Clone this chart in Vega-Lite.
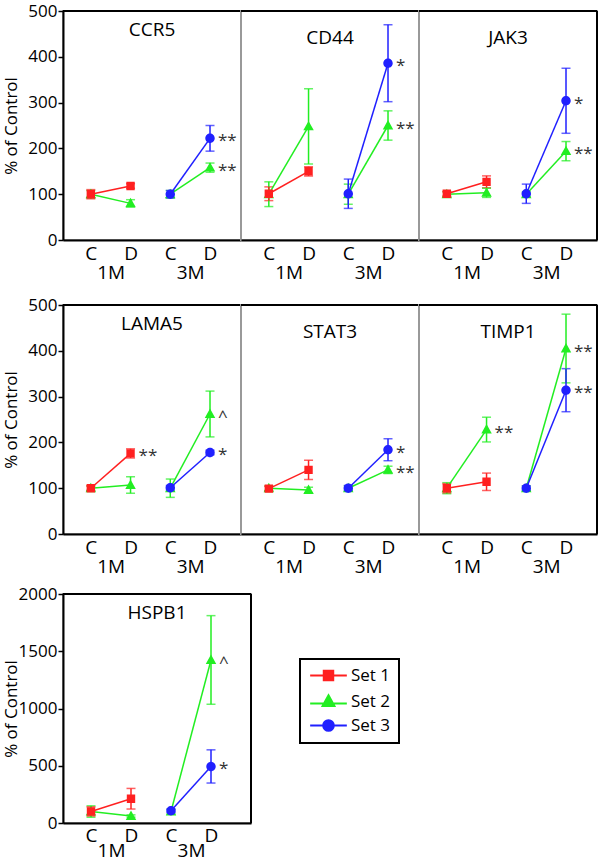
{
  "$schema": "https://vega.github.io/schema/vega-lite/v6.json",
  "padding": {"left": 1, "top": 1, "right": 2, "bottom": 0},
  "data": {"values": [
    {"gene":"CCR5","set":"Set 2","month":"1M","pos":1,"v":100,"err":8,"sig":""},
    {"gene":"CCR5","set":"Set 2","month":"1M","pos":2,"v":80,"err":8,"sig":""},
    {"gene":"CCR5","set":"Set 2","month":"3M","pos":3,"v":100,"err":8,"sig":""},
    {"gene":"CCR5","set":"Set 2","month":"3M","pos":4,"v":158,"err":10,"sig":"**"},
    {"gene":"CCR5","set":"Set 1","month":"1M","pos":1,"v":100,"err":10,"sig":""},
    {"gene":"CCR5","set":"Set 1","month":"1M","pos":2,"v":118,"err":5,"sig":""},
    {"gene":"CCR5","set":"Set 3","month":"3M","pos":3,"v":100,"err":8,"sig":""},
    {"gene":"CCR5","set":"Set 3","month":"3M","pos":4,"v":222,"err":28,"sig":"**"},
    {"gene":"CD44","set":"Set 2","month":"1M","pos":1,"v":100,"err":27,"sig":""},
    {"gene":"CD44","set":"Set 2","month":"1M","pos":2,"v":248,"err":82,"sig":""},
    {"gene":"CD44","set":"Set 2","month":"3M","pos":3,"v":100,"err":22,"sig":""},
    {"gene":"CD44","set":"Set 2","month":"3M","pos":4,"v":250,"err":32,"sig":"**"},
    {"gene":"CD44","set":"Set 1","month":"1M","pos":1,"v":101,"err":15,"sig":""},
    {"gene":"CD44","set":"Set 1","month":"1M","pos":2,"v":150,"err":10,"sig":""},
    {"gene":"CD44","set":"Set 3","month":"3M","pos":3,"v":101,"err":32,"sig":""},
    {"gene":"CD44","set":"Set 3","month":"3M","pos":4,"v":386,"err":84,"sig":"*"},
    {"gene":"JAK3","set":"Set 2","month":"1M","pos":1,"v":100,"err":5,"sig":""},
    {"gene":"JAK3","set":"Set 2","month":"1M","pos":2,"v":103,"err":10,"sig":""},
    {"gene":"JAK3","set":"Set 2","month":"3M","pos":3,"v":100,"err":5,"sig":""},
    {"gene":"JAK3","set":"Set 2","month":"3M","pos":4,"v":194,"err":21,"sig":"**"},
    {"gene":"JAK3","set":"Set 1","month":"1M","pos":1,"v":101,"err":5,"sig":""},
    {"gene":"JAK3","set":"Set 1","month":"1M","pos":2,"v":127,"err":13,"sig":""},
    {"gene":"JAK3","set":"Set 3","month":"3M","pos":3,"v":101,"err":21,"sig":""},
    {"gene":"JAK3","set":"Set 3","month":"3M","pos":4,"v":304,"err":71,"sig":"*"},
    {"gene":"LAMA5","set":"Set 2","month":"1M","pos":1,"v":100,"err":5,"sig":""},
    {"gene":"LAMA5","set":"Set 2","month":"1M","pos":2,"v":107,"err":18,"sig":""},
    {"gene":"LAMA5","set":"Set 2","month":"3M","pos":3,"v":100,"err":20,"sig":""},
    {"gene":"LAMA5","set":"Set 2","month":"3M","pos":4,"v":262,"err":50,"sig":"^"},
    {"gene":"LAMA5","set":"Set 1","month":"1M","pos":1,"v":100,"err":5,"sig":""},
    {"gene":"LAMA5","set":"Set 1","month":"1M","pos":2,"v":176,"err":10,"sig":"**"},
    {"gene":"LAMA5","set":"Set 3","month":"3M","pos":3,"v":101,"err":5,"sig":""},
    {"gene":"LAMA5","set":"Set 3","month":"3M","pos":4,"v":178,"err":5,"sig":"*"},
    {"gene":"STAT3","set":"Set 2","month":"1M","pos":1,"v":100,"err":5,"sig":""},
    {"gene":"STAT3","set":"Set 2","month":"1M","pos":2,"v":96,"err":6,"sig":""},
    {"gene":"STAT3","set":"Set 2","month":"3M","pos":3,"v":100,"err":5,"sig":""},
    {"gene":"STAT3","set":"Set 2","month":"3M","pos":4,"v":140,"err":8,"sig":"**"},
    {"gene":"STAT3","set":"Set 1","month":"1M","pos":1,"v":99,"err":5,"sig":""},
    {"gene":"STAT3","set":"Set 1","month":"1M","pos":2,"v":140,"err":21,"sig":""},
    {"gene":"STAT3","set":"Set 3","month":"3M","pos":3,"v":100,"err":6,"sig":""},
    {"gene":"STAT3","set":"Set 3","month":"3M","pos":4,"v":184,"err":24,"sig":"*"},
    {"gene":"TIMP1","set":"Set 2","month":"1M","pos":1,"v":100,"err":12,"sig":""},
    {"gene":"TIMP1","set":"Set 2","month":"1M","pos":2,"v":228,"err":27,"sig":"**"},
    {"gene":"TIMP1","set":"Set 2","month":"3M","pos":3,"v":100,"err":5,"sig":""},
    {"gene":"TIMP1","set":"Set 2","month":"3M","pos":4,"v":405,"err":75,"sig":"**"},
    {"gene":"TIMP1","set":"Set 1","month":"1M","pos":1,"v":100,"err":10,"sig":""},
    {"gene":"TIMP1","set":"Set 1","month":"1M","pos":2,"v":114,"err":19,"sig":""},
    {"gene":"TIMP1","set":"Set 3","month":"3M","pos":3,"v":100,"err":5,"sig":""},
    {"gene":"TIMP1","set":"Set 3","month":"3M","pos":4,"v":314,"err":47,"sig":"**"},
    {"gene":"HSPB1","set":"Set 2","month":"1M","pos":1,"v":100,"err":50,"sig":""},
    {"gene":"HSPB1","set":"Set 2","month":"1M","pos":2,"v":61,"err":10,"sig":""},
    {"gene":"HSPB1","set":"Set 2","month":"3M","pos":3,"v":100,"err":20,"sig":""},
    {"gene":"HSPB1","set":"Set 2","month":"3M","pos":4,"v":1424,"err":387,"sig":"^"},
    {"gene":"HSPB1","set":"Set 1","month":"1M","pos":1,"v":101,"err":40,"sig":""},
    {"gene":"HSPB1","set":"Set 1","month":"1M","pos":2,"v":212,"err":90,"sig":""},
    {"gene":"HSPB1","set":"Set 3","month":"3M","pos":3,"v":107,"err":15,"sig":""},
    {"gene":"HSPB1","set":"Set 3","month":"3M","pos":4,"v":494,"err":145,"sig":"*"}
  ]},
  "vconcat": [
    {"vconcat": [
    {"hconcat": [
      {"width": 178, "height": 229, "title": {"text": "CCR5"},
       "transform": [{"filter": {"field": "gene", "equal": "CCR5"}}],
       "resolve": {"axis": {"x": "independent"}},
       "layer": [
        {"mark": {"type": "errorbar", "ticks": {"size": 9}, "thickness": 1.5},
         "encoding": {
          "x": {"field": "pos", "type": "quantitative", "scale": {"domain": [0.3, 4.78], "nice": false, "zero": false}, "axis": null},
          "y": {"field": "v", "type": "quantitative", "scale": {"domain": [0, 500], "nice": false}, "axis": {"title": "% of Control", "values": [0, 100, 200, 300, 400, 500]}},
          "yError": {"field": "err"},
          "color": {"field": "set", "type": "nominal", "scale": {"domain": ["Set 1", "Set 2", "Set 3"], "range": ["#ff2020", "#22ee22", "#2020ff"]}}}},
        {"mark": {"type": "line", "strokeWidth": 1.5},
         "encoding": {
          "x": {"field": "pos", "type": "quantitative", "axis": {"title": null, "orient": "bottom", "values": [1, 2, 3, 4], "labelExpr": "datum.value == 1 || datum.value == 3 ? 'C' : 'D'"}},
          "y": {"field": "v", "type": "quantitative"},
          "color": {"field": "set", "type": "nominal"},
          "detail": {"field": "month"}}},
        {"mark": {"type": "point", "filled": true, "opacity": 1, "size": 110, "strokeWidth": 0},
         "encoding": {
          "x": {"field": "pos", "type": "quantitative", "axis": {"title": null, "orient": "bottom", "values": [1.5, 3.5], "labelExpr": "datum.value < 2 ? '1M' : '3M'", "offset": 19, "domain": false}},
          "y": {"field": "v", "type": "quantitative"},
          "color": {"field": "set", "type": "nominal"},
          "shape": {"field": "set", "type": "nominal", "scale": {"domain": ["Set 1", "Set 2", "Set 3"], "range": ["M-3.1,0H3.1M-0.8,-0.8H0.8V0.8H-0.8Z", "M-3.1,0.35H3.1M0,-1.05L1,0.75H-1Z", "M-3.1,0H3.1M-0.9,0A0.9,0.9,0,1,1,0.9,0A0.9,0.9,0,1,1,-0.9,0Z"]}}}},
        {"mark": {"type": "text", "align": "left", "baseline": "middle", "dx": 8, "dy": 3, "fontSize": 17, "color": "#333333"},
         "encoding": {
          "x": {"field": "pos", "type": "quantitative", "axis": null},
          "y": {"field": "v", "type": "quantitative"},
          "text": {"field": "sig"}}},
        {"mark": {"type": "rule", "color": "black", "strokeWidth": 2},
         "encoding": {"y": {"datum": 500, "type": "quantitative"}}}
       ]},
      {"width": 178, "height": 229, "title": {"text": "CD44"},
       "transform": [{"filter": {"field": "gene", "equal": "CD44"}}],
       "resolve": {"axis": {"x": "independent"}},
       "layer": [
        {"mark": {"type": "errorbar", "ticks": {"size": 9}, "thickness": 1.5},
         "encoding": {
          "x": {"field": "pos", "type": "quantitative", "scale": {"domain": [0.3, 4.78], "nice": false, "zero": false}, "axis": null},
          "y": {"field": "v", "type": "quantitative", "scale": {"domain": [0, 500], "nice": false}, "axis": null},
          "yError": {"field": "err"},
          "color": {"field": "set", "type": "nominal"}}},
        {"mark": {"type": "line", "strokeWidth": 1.5},
         "encoding": {
          "x": {"field": "pos", "type": "quantitative", "axis": {"title": null, "orient": "bottom", "values": [1, 2, 3, 4], "labelExpr": "datum.value == 1 || datum.value == 3 ? 'C' : 'D'"}},
          "y": {"field": "v", "type": "quantitative", "axis": null},
          "color": {"field": "set", "type": "nominal"},
          "detail": {"field": "month"}}},
        {"mark": {"type": "point", "filled": true, "opacity": 1, "size": 110, "strokeWidth": 0},
         "encoding": {
          "x": {"field": "pos", "type": "quantitative", "axis": {"title": null, "orient": "bottom", "values": [1.5, 3.5], "labelExpr": "datum.value < 2 ? '1M' : '3M'", "offset": 19, "domain": false}},
          "y": {"field": "v", "type": "quantitative", "axis": null},
          "color": {"field": "set", "type": "nominal"},
          "shape": {"field": "set", "type": "nominal"}}},
        {"mark": {"type": "text", "align": "left", "baseline": "middle", "dx": 8, "dy": 3, "fontSize": 17, "color": "#333333"},
         "encoding": {
          "x": {"field": "pos", "type": "quantitative", "axis": null},
          "y": {"field": "v", "type": "quantitative", "axis": null},
          "text": {"field": "sig"}}},
        {"mark": {"type": "rule", "color": "black", "strokeWidth": 2},
         "encoding": {"y": {"datum": 500, "type": "quantitative", "axis": null}}}
       ]},
      {"width": 178, "height": 229, "title": {"text": "JAK3"},
       "transform": [{"filter": {"field": "gene", "equal": "JAK3"}}],
       "resolve": {"axis": {"x": "independent"}},
       "layer": [
        {"mark": {"type": "errorbar", "ticks": {"size": 9}, "thickness": 1.5},
         "encoding": {
          "x": {"field": "pos", "type": "quantitative", "scale": {"domain": [0.3, 4.78], "nice": false, "zero": false}, "axis": null},
          "y": {"field": "v", "type": "quantitative", "scale": {"domain": [0, 500], "nice": false}, "axis": null},
          "yError": {"field": "err"},
          "color": {"field": "set", "type": "nominal"}}},
        {"mark": {"type": "line", "strokeWidth": 1.5},
         "encoding": {
          "x": {"field": "pos", "type": "quantitative", "axis": {"title": null, "orient": "bottom", "values": [1, 2, 3, 4], "labelExpr": "datum.value == 1 || datum.value == 3 ? 'C' : 'D'"}},
          "y": {"field": "v", "type": "quantitative", "axis": null},
          "color": {"field": "set", "type": "nominal"},
          "detail": {"field": "month"}}},
        {"mark": {"type": "point", "filled": true, "opacity": 1, "size": 110, "strokeWidth": 0},
         "encoding": {
          "x": {"field": "pos", "type": "quantitative", "axis": {"title": null, "orient": "bottom", "values": [1.5, 3.5], "labelExpr": "datum.value < 2 ? '1M' : '3M'", "offset": 19, "domain": false}},
          "y": {"field": "v", "type": "quantitative", "axis": null},
          "color": {"field": "set", "type": "nominal"},
          "shape": {"field": "set", "type": "nominal"}}},
        {"mark": {"type": "text", "align": "left", "baseline": "middle", "dx": 8, "dy": 3, "fontSize": 17, "color": "#333333"},
         "encoding": {
          "x": {"field": "pos", "type": "quantitative", "axis": null},
          "y": {"field": "v", "type": "quantitative", "axis": null},
          "text": {"field": "sig"}}},
        {"mark": {"type": "rule", "color": "black", "strokeWidth": 2},
         "encoding": {"y": {"datum": 500, "type": "quantitative", "axis": null}}},
        {"mark": {"type": "rule", "color": "black", "strokeWidth": 2},
         "encoding": {"x": {"datum": 4.78, "type": "quantitative", "axis": null}}}
       ]}
    ], "spacing": 0, "bounds": "flush"},
    {"hconcat": [
      {"width": 178, "height": 229, "title": {"text": "LAMA5"},
       "transform": [{"filter": {"field": "gene", "equal": "LAMA5"}}],
       "resolve": {"axis": {"x": "independent"}},
       "layer": [
        {"mark": {"type": "errorbar", "ticks": {"size": 9}, "thickness": 1.5},
         "encoding": {
          "x": {"field": "pos", "type": "quantitative", "scale": {"domain": [0.3, 4.78], "nice": false, "zero": false}, "axis": null},
          "y": {"field": "v", "type": "quantitative", "scale": {"domain": [0, 500], "nice": false}, "axis": {"title": "% of Control", "values": [0, 100, 200, 300, 400, 500]}},
          "yError": {"field": "err"},
          "color": {"field": "set", "type": "nominal"}}},
        {"mark": {"type": "line", "strokeWidth": 1.5},
         "encoding": {
          "x": {"field": "pos", "type": "quantitative", "axis": {"title": null, "orient": "bottom", "values": [1, 2, 3, 4], "labelExpr": "datum.value == 1 || datum.value == 3 ? 'C' : 'D'"}},
          "y": {"field": "v", "type": "quantitative"},
          "color": {"field": "set", "type": "nominal"},
          "detail": {"field": "month"}}},
        {"mark": {"type": "point", "filled": true, "opacity": 1, "size": 110, "strokeWidth": 0},
         "encoding": {
          "x": {"field": "pos", "type": "quantitative", "axis": {"title": null, "orient": "bottom", "values": [1.5, 3.5], "labelExpr": "datum.value < 2 ? '1M' : '3M'", "offset": 19, "domain": false}},
          "y": {"field": "v", "type": "quantitative"},
          "color": {"field": "set", "type": "nominal"},
          "shape": {"field": "set", "type": "nominal"}}},
        {"mark": {"type": "text", "align": "left", "baseline": "middle", "dx": 8, "dy": 3, "fontSize": 17, "color": "#333333"},
         "encoding": {
          "x": {"field": "pos", "type": "quantitative", "axis": null},
          "y": {"field": "v", "type": "quantitative"},
          "text": {"field": "sig"}}},
        {"mark": {"type": "rule", "color": "black", "strokeWidth": 2},
         "encoding": {"y": {"datum": 500, "type": "quantitative"}}}
       ]},
      {"width": 178, "height": 229, "title": {"text": "STAT3"},
       "transform": [{"filter": {"field": "gene", "equal": "STAT3"}}],
       "resolve": {"axis": {"x": "independent"}},
       "layer": [
        {"mark": {"type": "errorbar", "ticks": {"size": 9}, "thickness": 1.5},
         "encoding": {
          "x": {"field": "pos", "type": "quantitative", "scale": {"domain": [0.3, 4.78], "nice": false, "zero": false}, "axis": null},
          "y": {"field": "v", "type": "quantitative", "scale": {"domain": [0, 500], "nice": false}, "axis": null},
          "yError": {"field": "err"},
          "color": {"field": "set", "type": "nominal"}}},
        {"mark": {"type": "line", "strokeWidth": 1.5},
         "encoding": {
          "x": {"field": "pos", "type": "quantitative", "axis": {"title": null, "orient": "bottom", "values": [1, 2, 3, 4], "labelExpr": "datum.value == 1 || datum.value == 3 ? 'C' : 'D'"}},
          "y": {"field": "v", "type": "quantitative", "axis": null},
          "color": {"field": "set", "type": "nominal"},
          "detail": {"field": "month"}}},
        {"mark": {"type": "point", "filled": true, "opacity": 1, "size": 110, "strokeWidth": 0},
         "encoding": {
          "x": {"field": "pos", "type": "quantitative", "axis": {"title": null, "orient": "bottom", "values": [1.5, 3.5], "labelExpr": "datum.value < 2 ? '1M' : '3M'", "offset": 19, "domain": false}},
          "y": {"field": "v", "type": "quantitative", "axis": null},
          "color": {"field": "set", "type": "nominal"},
          "shape": {"field": "set", "type": "nominal"}}},
        {"mark": {"type": "text", "align": "left", "baseline": "middle", "dx": 8, "dy": 3, "fontSize": 17, "color": "#333333"},
         "encoding": {
          "x": {"field": "pos", "type": "quantitative", "axis": null},
          "y": {"field": "v", "type": "quantitative", "axis": null},
          "text": {"field": "sig"}}},
        {"mark": {"type": "rule", "color": "black", "strokeWidth": 2},
         "encoding": {"y": {"datum": 500, "type": "quantitative", "axis": null}}}
       ]},
      {"width": 178, "height": 229, "title": {"text": "TIMP1"},
       "transform": [{"filter": {"field": "gene", "equal": "TIMP1"}}],
       "resolve": {"axis": {"x": "independent"}},
       "layer": [
        {"mark": {"type": "errorbar", "ticks": {"size": 9}, "thickness": 1.5},
         "encoding": {
          "x": {"field": "pos", "type": "quantitative", "scale": {"domain": [0.3, 4.78], "nice": false, "zero": false}, "axis": null},
          "y": {"field": "v", "type": "quantitative", "scale": {"domain": [0, 500], "nice": false}, "axis": null},
          "yError": {"field": "err"},
          "color": {"field": "set", "type": "nominal"}}},
        {"mark": {"type": "line", "strokeWidth": 1.5},
         "encoding": {
          "x": {"field": "pos", "type": "quantitative", "axis": {"title": null, "orient": "bottom", "values": [1, 2, 3, 4], "labelExpr": "datum.value == 1 || datum.value == 3 ? 'C' : 'D'"}},
          "y": {"field": "v", "type": "quantitative", "axis": null},
          "color": {"field": "set", "type": "nominal"},
          "detail": {"field": "month"}}},
        {"mark": {"type": "point", "filled": true, "opacity": 1, "size": 110, "strokeWidth": 0},
         "encoding": {
          "x": {"field": "pos", "type": "quantitative", "axis": {"title": null, "orient": "bottom", "values": [1.5, 3.5], "labelExpr": "datum.value < 2 ? '1M' : '3M'", "offset": 19, "domain": false}},
          "y": {"field": "v", "type": "quantitative", "axis": null},
          "color": {"field": "set", "type": "nominal"},
          "shape": {"field": "set", "type": "nominal"}}},
        {"mark": {"type": "text", "align": "left", "baseline": "middle", "dx": 8, "dy": 3, "fontSize": 17, "color": "#333333"},
         "encoding": {
          "x": {"field": "pos", "type": "quantitative", "axis": null},
          "y": {"field": "v", "type": "quantitative", "axis": null},
          "text": {"field": "sig"}}},
        {"mark": {"type": "rule", "color": "black", "strokeWidth": 2},
         "encoding": {"y": {"datum": 500, "type": "quantitative", "axis": null}}},
        {"mark": {"type": "rule", "color": "black", "strokeWidth": 2},
         "encoding": {"x": {"datum": 4.78, "type": "quantitative", "axis": null}}}
       ]}
    ], "spacing": 0, "bounds": "flush"}
    ], "spacing": 12},
    {"width": 188, "height": 229, "title": {"text": "HSPB1"},
     "transform": [{"filter": {"field": "gene", "equal": "HSPB1"}}],
     "resolve": {"axis": {"x": "independent"}},
     "layer": [
      {"mark": {"type": "errorbar", "ticks": {"size": 9}, "thickness": 1.5},
       "encoding": {
        "x": {"field": "pos", "type": "quantitative", "scale": {"domain": [0.3, 5.0], "nice": false, "zero": false}, "axis": null},
        "y": {"field": "v", "type": "quantitative", "scale": {"domain": [0, 2000], "nice": false}, "axis": {"title": "% of Control", "values": [0, 500, 1000, 1500, 2000], "format": "d"}},
        "yError": {"field": "err"},
        "color": {"field": "set", "type": "nominal"}}},
      {"mark": {"type": "line", "strokeWidth": 1.5},
       "encoding": {
        "x": {"field": "pos", "type": "quantitative", "axis": {"title": null, "orient": "bottom", "values": [1, 2, 3, 4], "labelExpr": "datum.value == 1 || datum.value == 3 ? 'C' : 'D'", "labelPadding": 3}},
        "y": {"field": "v", "type": "quantitative"},
        "color": {"field": "set", "type": "nominal"},
        "detail": {"field": "month"}}},
      {"mark": {"type": "point", "filled": true, "opacity": 1, "size": 110, "strokeWidth": 0},
       "encoding": {
        "x": {"field": "pos", "type": "quantitative", "axis": {"title": null, "orient": "bottom", "values": [1.5, 3.5], "labelExpr": "datum.value < 2 ? '1M' : '3M'", "offset": 15, "labelPadding": 3, "domain": false}},
        "y": {"field": "v", "type": "quantitative"},
        "color": {"field": "set", "type": "nominal", "legend": {"title": null, "orient": "none", "legendX": 237, "legendY": 648, "labelFontSize": 17, "symbolSize": 140, "symbolOpacity": 1, "strokeColor": "black", "padding": 8, "rowPadding": 6, "symbolOffset": 12, "labelOffset": 14, "symbolStrokeWidth": 2, "encode": {"symbols": {"update": {"stroke": {"scale": "color", "field": "value"}, "opacity": {"value": 1}}}, "legend": {"update": {"strokeWidth": {"value": 2}}}}}},
        "shape": {"field": "set", "type": "nominal", "legend": {"title": null, "orient": "none", "legendX": 237, "legendY": 648, "labelFontSize": 17, "symbolSize": 140, "symbolOpacity": 1, "strokeColor": "black", "padding": 8, "rowPadding": 6, "symbolOffset": 12, "labelOffset": 14, "symbolStrokeWidth": 2, "encode": {"symbols": {"update": {"stroke": {"scale": "color", "field": "value"}, "opacity": {"value": 1}}}, "legend": {"update": {"strokeWidth": {"value": 2}}}}}}}},
      {"mark": {"type": "text", "align": "left", "baseline": "middle", "dx": 8, "dy": 3, "fontSize": 17, "color": "#333333"},
       "encoding": {
        "x": {"field": "pos", "type": "quantitative", "axis": null},
        "y": {"field": "v", "type": "quantitative"},
        "text": {"field": "sig"}}},
      {"mark": {"type": "rule", "color": "black", "strokeWidth": 2},
       "encoding": {"y": {"datum": 2000, "type": "quantitative"}}},
      {"mark": {"type": "rule", "color": "black", "strokeWidth": 2},
       "encoding": {"x": {"datum": 5.0, "type": "quantitative", "axis": null}}}
     ]}
  ],
  "spacing": 7,
  "config": {
    "font": "Open Sans",
    "view": {"stroke": "#999999", "strokeWidth": 2},
    "axis": {"grid": false, "domainColor": "black", "domainWidth": 2, "labelColor": "black", "titleColor": "black", "labelFont": "Open Sans", "titleFont": "Open Sans"},
    "axisX": {"ticks": false, "labelFontSize": 19, "labelPadding": 4, "labelOverlap": false, "labelBound": false, "labelFlush": false},
    "axisY": {"tickSize": 5, "tickColor": "black", "tickWidth": 1.5, "labelFontSize": 17, "labelPadding": 1, "titleFontSize": 17, "titleFontWeight": "normal", "titlePadding": 3, "minExtent": 40, "maxExtent": 40, "labelOverlap": false, "labelFlush": false},
    "title": {"fontSize": 19, "fontWeight": "normal", "anchor": "middle", "offset": -38, "color": "black", "font": "Open Sans"}
  }
}
